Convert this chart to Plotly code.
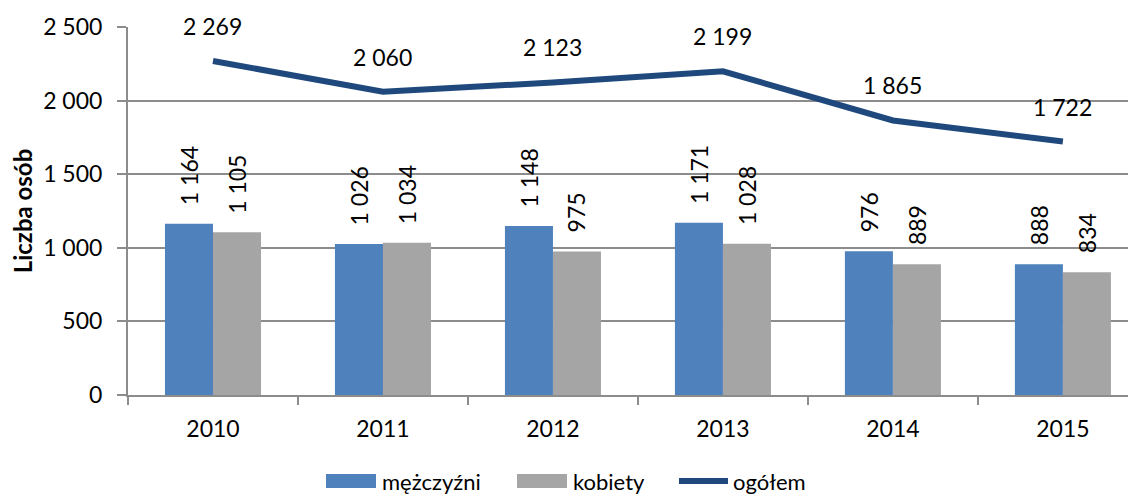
import plotly.graph_objects as go

years = ["2010", "2011", "2012", "2013", "2014", "2015"]
men = [1164, 1026, 1148, 1171, 976, 888]
women = [1105, 1034, 975, 1028, 889, 834]
total = [2269, 2060, 2123, 2199, 1865, 1722]
y_ticks = [0, 500, 1000, 1500, 2000, 2500]
series_names = ["mężczyźni", "kobiety", "ogółem"]

FONT = "Lato"
BLUE = "#4F81BD"
GRAY = "#A5A5A5"
NAVY = "#1F497D"
GRID = "#8C8C8C"

# plot area in figure pixels (page body adds an 8px offset on screen)
L, T, W, H = 120, 19, 1008, 368


def fmt(v):
    return f"{v:,}".replace(",", " ")


def px(x):
    return (x - L) / W


def py(y):
    return (T + H - y) / H


fig = go.Figure()
fig.add_trace(go.Bar(x=years, y=men, name=series_names[0], marker=dict(color=BLUE, line=dict(width=0))))
fig.add_trace(go.Bar(x=years, y=women, name=series_names[1], marker=dict(color=GRAY, line=dict(width=0))))
fig.add_trace(go.Scatter(x=years, y=total, name=series_names[2], mode="lines",
                         line=dict(color=NAVY, width=6)))

# category axis: annotations are placed by category index
annotations = []
for i, (m, w, t) in enumerate(zip(men, women, total)):
    for val, shift in ((m, -24), (w, 24)):
        annotations.append(dict(x=i, y=val, text=fmt(val), textangle=-90, showarrow=False,
                                xshift=shift, yanchor="bottom", yshift=17,
                                font=dict(family=FONT, size=23, color="black")))
    annotations.append(dict(x=i, y=t, text=fmt(t), showarrow=False, yanchor="middle",
                            yshift=35, font=dict(family=FONT, size=23, color="black")))

# legend drawn by hand to get the wide swatches
shapes = []
legend_y = 473
swatches = [(318, BLUE, "rect"), (509, GRAY, "rect"), (669, NAVY, "line")]
for (x0, color, kind), name in zip(swatches, series_names):
    if kind == "rect":
        shapes.append(dict(type="rect", xref="paper", yref="paper",
                           x0=px(x0), x1=px(x0 + 50), y0=py(legend_y - 7), y1=py(legend_y + 7),
                           fillcolor=color, line=dict(width=0)))
    else:
        shapes.append(dict(type="line", xref="paper", yref="paper",
                           x0=px(x0 + 2), x1=px(x0 + 51), y0=py(legend_y), y1=py(legend_y),
                           line=dict(color=color, width=6)))
    annotations.append(dict(xref="paper", yref="paper", x=px(x0 + 55), y=py(legend_y),
                            xanchor="left", yanchor="middle", text=name, showarrow=False,
                            borderpad=0, font=dict(family=FONT, size=22, color="black")))

fig.update_layout(
    width=1128, height=489,
    margin=dict(l=L, r=0, t=T, b=489 - T - H, autoexpand=False),
    paper_bgcolor="white", plot_bgcolor="white",
    font=dict(family=FONT, size=23, color="black"),
    separators=", ",
    barmode="group", bargap=0.435, bargroupgap=0,
    annotations=annotations,
    shapes=shapes,
    showlegend=False,
    xaxis=dict(type="category", range=[-0.5, 5.43], showline=True, linecolor=GRID, linewidth=2,
               ticks="outside", ticklen=8, tickcolor=GRID, tickwidth=2,
               tickson="boundaries", ticklabelstandoff=12, showgrid=False, automargin=False),
    yaxis=dict(range=[0, 2500], tickvals=y_ticks, tickformat=",d", showline=True,
               linecolor=GRID, linewidth=2, ticks="outside", ticklen=9, tickcolor=GRID,
               tickwidth=2, gridcolor=GRID, gridwidth=2, zeroline=False,
               ticklabelstandoff=10, automargin=False,
               title=dict(text="<b>Liczba osób</b>", font=dict(size=24), standoff=10)),
)

fig.write_html("out.html")
